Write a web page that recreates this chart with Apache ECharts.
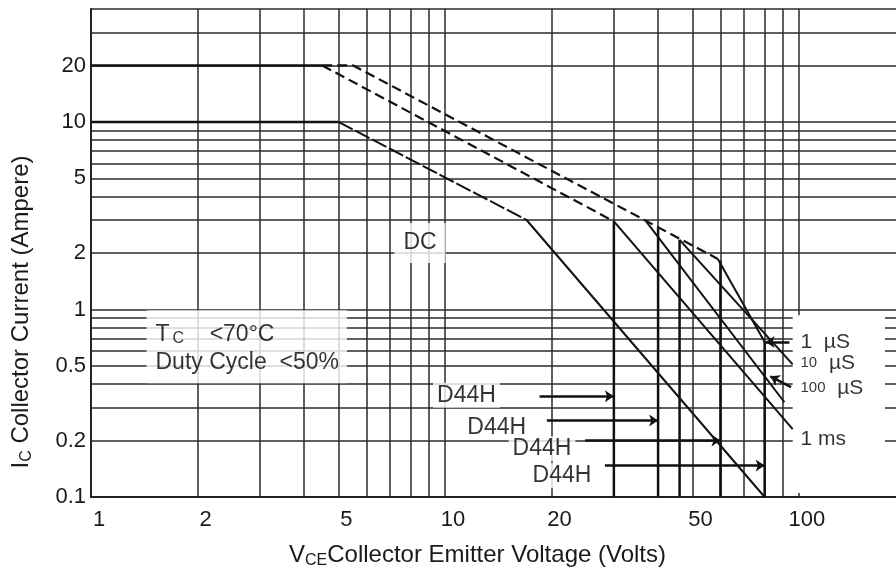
<!DOCTYPE html>
<html>
<head><meta charset="utf-8"></head>
<body style="margin:0;background:#fff">
<div id="soa" style="width:896px;height:578px;"></div>
<script src="https://cdn.jsdelivr.net/npm/echarts@6/dist/echarts.min.js"></script>
<script>
// log-log grid lines and the labelled ones
var xTicks = [1, 2, 3, 4, 5, 6, 7, 8, 9, 10, 20, 30, 40, 50, 60, 70, 80, 90, 100];
var xLabels = [1, 2, 5, 10, 20, 50, 100];
var yTicks = [0.1, 0.2, 0.3, 0.4, 0.5, 0.6, 0.7, 0.8, 0.9, 1, 2, 3, 4, 5, 6, 7, 8, 9, 10, 20, 30, 40];
var yLabels = [0.1, 0.2, 0.5, 1, 2, 5, 10, 20];

// DC curve
var dcFlat = [[1, 10], [5, 10]];
var dcPower = [[5, 10], [17, 3]];
var dcBreak = [[17, 3], [80, 0.1]];
// pulsed curves
var pulseFlat = [[1, 20], [4.5, 20]];
var pulseLow = [[4.5, 20], [30, 2.95]];
var pulseHigh = [[4.5, 20], [5.5, 20], [59, 1.86]];
var us1 = [[59, 1.86], [80, 0.67]];
var us10 = [[46, 2.35], [96, 0.51]];
var us100 = [[37, 2.95], [91, 0.32]];
var ms1 = [[30, 2.95], [96, 0.23]];
// voltage limits of the device types
var limits = [
    [[30, 2.95], [30, 0.1]],
    [[40, 2.7], [40, 0.1]],
    [[46, 2.35], [46, 0.1]],
    [[60, 1.82], [60, 0.1]],
    [[80, 0.67], [80, 0.1]]
];
var arrows = [
    [[18.5, 0.345], [30, 0.345]],
    [[19.4, 0.256], [40, 0.256]],
    [[24.9, 0.2], [60, 0.2]],
    [[28.3, 0.147], [80, 0.147]],
    [[94, 0.67], [80.5, 0.67]],
    [[95, 0.385], [83, 0.44]]
];

var myChart = echarts.init(document.getElementById('soa'));

function seg(data, dashed, width) {
    return {
        type: 'line',
        data: data,
        symbol: 'none',
        z: 5,
        silent: true,
        lineStyle: {color: '#111', width: width || 2, type: dashed || 'solid'}
    };
}

var fmt = function (v) {
    return String(+Number(v).toPrecision(3));
};
var txt = {fontFamily: 'Liberation Sans', fontSize: 22, color: '#1a1a1a'};

var series = [
    seg(dcFlat, null, 2.5),
    seg(dcPower, [16, 3]),
    seg(dcBreak),
    seg(pulseFlat, null, 2.5),
    seg(pulseLow, [10, 5], 2.2),
    seg(pulseHigh, [10, 5], 2.2),
    seg(us1),
    seg(us10),
    seg(us100),
    seg(ms1)
];
limits.forEach(function (l) {
    series.push(seg(l, null, 2.5));
});
series.push({
    type: 'lines',
    coordinateSystem: 'cartesian2d',
    z: 5,
    silent: true,
    symbol: ['none', 'arrow'],
    symbolSize: 9,
    lineStyle: {color: '#111', width: 2.5, opacity: 1},
    data: arrows.map(function (a) { return {coords: a}; })
});

// text notes, white boxes cover the grid behind them
function note(name, pos, label) {
    return {name: name, value: pos, label: label};
}
var right = {position: 'right', distance: 0, fontSize: 21, rich: {s: {fontSize: 15, color: '#000'}}};
series.push({
    type: 'scatter',
    z: 3,
    silent: true,
    symbolSize: 1,
    itemStyle: {color: '#fff'},
    label: {
        show: true,
        position: 'inside',
        formatter: '{b}',
        fontFamily: 'Liberation Sans',
        fontSize: 23,
        color: '#000',
        textBorderWidth: 0,
        backgroundColor: '#fff'
    },
    data: [
        note('DC', [8.5, 2.26], {padding: [8, 9, 9, 9]}),
        note('T{s|C}    <70°C\nDuty Cycle  <50%', [1.43, 0.633], {
            position: 'right', distance: 0, align: 'left', lineHeight: 28,
            padding: [10, 8, 7, 9],
            rich: {s: {fontSize: 16, color: '#000', padding: [8, 0, 0, 3]}}
        }),
        note('D44H', [11.5, 0.349], {padding: [2, 4, 0, 4]}),
        note('D44H', [14, 0.235], {padding: [2, 4, 0, 4]}),
        note('D44H', [18.8, 0.181], {padding: [2, 4, 0, 4]}),
        note('D44H', [21.4, 0.13], {padding: [2, 4, 0, 4]}),
        note('1  µS', [100.7, 0.673], right),
        note('{s|10}  µS', [100.7, 0.519], right),
        note('{s|100}  µS', [100.7, 0.381], right),
        note('1 ms', [100.7, 0.203], right)
    ],
    markArea: {
        silent: true,
        itemStyle: {color: '#fff'},
        data: [[{coord: [96, 0.105]}, {coord: [175, 0.93]}]]
    }
});

var option = {
    animation: false,
    backgroundColor: '#fff',
    grid: {left: 91, right: 0, top: 9, bottom: 81},
    xAxis: {
        type: 'log',
        min: 1,
        max: 188,
        name: 'V{s|CE}Collector Emitter Voltage (Volts)',
        nameLocation: 'middle',
        nameGap: 44,
        nameTextStyle: {
            fontFamily: 'Liberation Sans', fontSize: 24, color: '#1a1a1a', padding: [0, 32, 0, 0],
            rich: {s: {fontSize: 16, color: '#1a1a1a', padding: [12, 0, 0, 0]}}
        },
        axisLine: {show: true, lineStyle: {color: '#222', width: 2}},
        axisTick: {show: false, customValues: xTicks},
        axisLabel: Object.assign({customValues: xLabels, margin: 12, padding: [0, 0, 0, 16], formatter: fmt}, txt),
        splitLine: {show: true, lineStyle: {color: '#2a2a2a', width: 1.5}}
    },
    yAxis: {
        type: 'log',
        min: 0.1,
        max: 40,
        name: 'I{s|C} Collector Current (Ampere)',
        nameLocation: 'middle',
        nameGap: 56,
        nameTextStyle: {
            fontFamily: 'Liberation Sans', fontSize: 24, color: '#1a1a1a', padding: [0, 118, 0, 0],
            rich: {s: {fontSize: 16, color: '#1a1a1a', padding: [12, 0, 0, 0]}}
        },
        axisLine: {show: true, lineStyle: {color: '#222', width: 2}},
        axisTick: {show: false, customValues: yTicks},
        axisLabel: Object.assign({customValues: yLabels, margin: 5, formatter: fmt}, txt),
        splitLine: {show: true, lineStyle: {color: '#2a2a2a', width: 1.5}}
    },
    series: series
};
myChart.setOption(option);
</script>
</body>
</html>
